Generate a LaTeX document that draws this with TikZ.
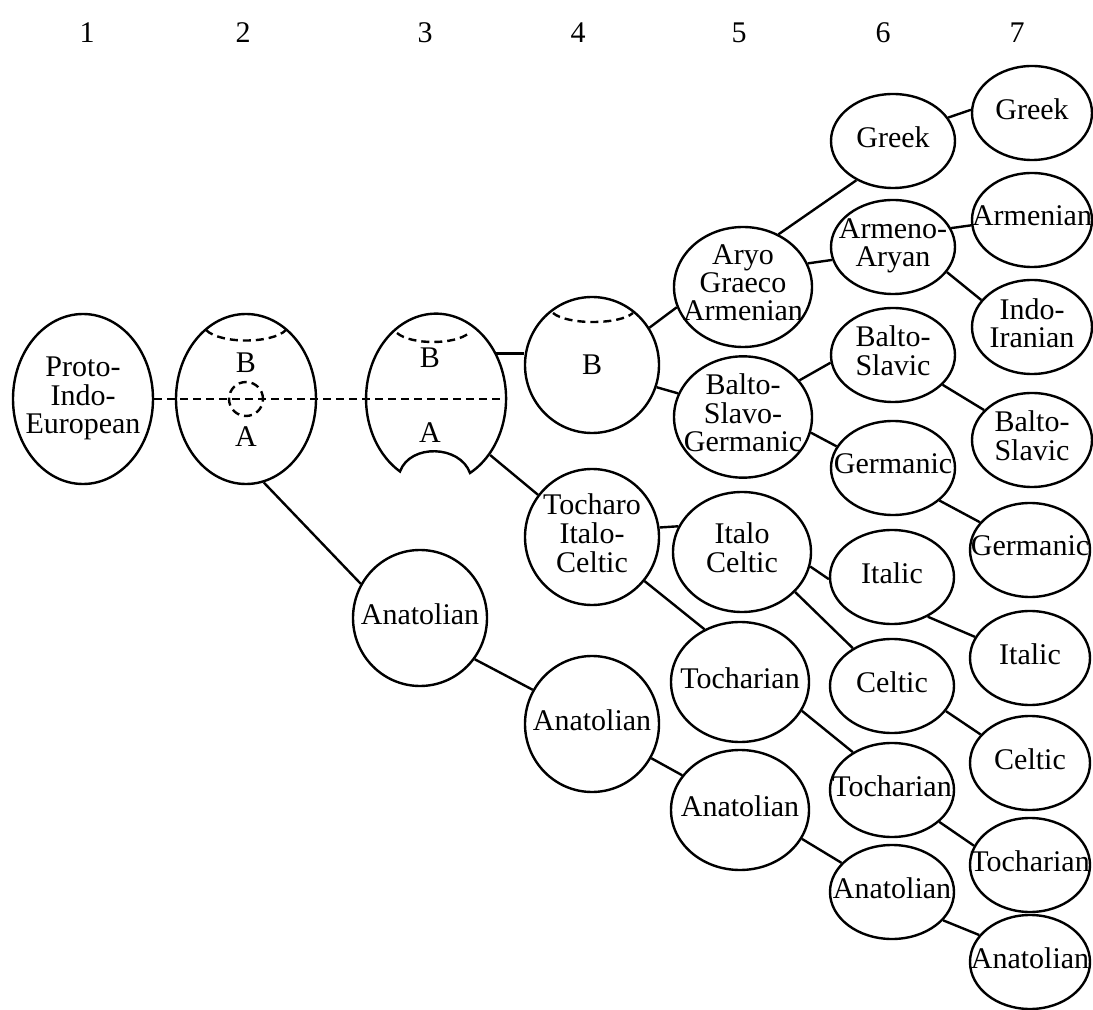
\documentclass[tikz,border=0pt]{standalone}
\usepackage{fontspec}
\setmainfont{Liberation Serif}
\usetikzlibrary{shapes.geometric,calc}

% text that does not widen its ellipse
\newcommand{\lname}[1]{\makebox[0pt]{\begin{tabular}{@{}c@{}}#1\end{tabular}}}

\begin{document}
\begin{tikzpicture}[x=0.5pt,y=-0.5pt,line width=1.2pt,
  txt/.style={font=\fontsize{15}{13.5}\selectfont},
  lang/.style={txt,ellipse,draw,inner sep=0pt},
  big node/.style={lang,minimum width=70pt,minimum height=85pt},
  round node/.style={lang,minimum width=67pt,minimum height=68pt},
  mid node/.style={lang,minimum width=69pt,minimum height=60pt},
  six node/.style={lang,minimum width=62pt,minimum height=47pt},
  seven node/.style={lang,minimum width=60pt,minimum height=47pt},
  border line/.style={dash pattern=on 4pt off 2.5pt}]

  \useasboundingbox (0,0) rectangle (1093,1010);

  % stage numbers
  \foreach \x [count=\i] in {87,243,425,578,739,883,1017}
    \node[txt] (h\i) at (\x,33) {\i};

  \node[big node]  (pie) at (83,399) {\lname{Proto-\\Indo-\\European}};
  \node[big node]  (n2)  at (246,399) {};
  \node[big node,draw=none] (n3) at (436,399) {};
  \node[round node] (b4)  at (592,365) {B};
  \node[round node] (an3) at (420,618) {\lname{Anatolian}};
  \node[round node] (tic) at (592,537) {\lname{Tocharo\\Italo-\\Celtic}};
  \node[round node] (an4) at (592,724) {\lname{Anatolian}};

  \node[mid node]  (aga) at (743,287) {\lname{Aryo\\Graeco\\Armenian}};
  \node[mid node]  (bsg) at (743,417) {\lname{Balto-\\Slavo-\\Germanic}};
  \node[mid node]  (ic)  at (742,552) {\lname{Italo\\Celtic}};
  \node[mid node]  (to5) at (740,682) {\lname{Tocharian}};
  \node[mid node]  (an5) at (740,810) {\lname{Anatolian}};

  \node[six node]  (gr6) at (893,141) {\lname{Greek}};
  \node[six node]  (aa6) at (893,247) {\lname{Armeno-\\Aryan}};
  \node[six node]  (bs6) at (893,355) {\lname{Balto-\\Slavic}};
  \node[six node]  (ge6) at (893,468) {\lname{Germanic}};
  \node[six node]  (it6) at (892,577) {\lname{Italic}};
  \node[six node]  (ce6) at (892,686) {\lname{Celtic}};
  \node[six node]  (to6) at (892,790) {\lname{Tocharian}};
  \node[six node]  (an6) at (892,892) {\lname{Anatolian}};

  \node[seven node] (gr7) at (1032,113) {\lname{Greek}};
  \node[seven node] (ar7) at (1032,220) {\lname{Armenian}};
  \node[seven node] (ii7) at (1032,327) {\lname{Indo-\\Iranian}};
  \node[seven node] (bs7) at (1032,440) {\lname{Balto-\\Slavic}};
  \node[seven node] (ge7) at (1030,550) {\lname{Germanic}};
  \node[seven node] (it7) at (1030,658) {\lname{Italic}};
  \node[seven node] (ce7) at (1030,763) {\lname{Celtic}};
  \node[seven node] (to7) at (1030,865) {\lname{Tocharian}};
  \node[seven node] (an7) at (1030,962) {\lname{Anatolian}};

  % split node with the notch
  \draw ($(n3)+(34,74)$) arc[start angle=-61,end angle=239,x radius=35pt,y radius=42.5pt]
    .. controls +(10,-28) and +(-10,-28) .. ($(n3)+(34,74)$) -- cycle;

  \node[txt] (n2b) at (246,363) {B};
  \node[txt] (n2a) at (246,437) {A};
  \node[txt] (n3b) at (430,358) {B};
  \node[txt] (n3a) at (430,433) {A};

  % dashed parts
  \draw[border line] (pie.east) -- (n3.east);
  \draw[border line] (n2) circle[radius=8.5pt];
  \draw[border line] ($(n2)+(-40,-69)$) .. controls +(14,14) and +(-14,14) .. ($(n2)+(40,-69)$);
  \draw[border line] ($(n3)+(-39,-66)$) .. controls +(14,12) and +(-14,12) .. ($(n3)+(33,-66)$);
  \draw[border line] ($(b4)+(-39,-52)$) .. controls +(14,12) and +(-14,12) .. ($(b4)+(41,-52)$);

  \path
    (n2.-78) edge (an3.150)
    (n3.37) edge (b4.west |- n3.37)
    (n3.-46) edge (tic.142)
    (b4.33) edge (aga.197)
    (b4.-19) edge (bsg.160)
    (tic.8) edge (ic.158)
    (tic.-40) edge (to5.124)
    (an3.-37) edge (an4.150)
    (an4.-30) edge (an5.149)
    (aga.56) edge (gr6.-133)
    (aga.20) edge (aa6.192)
    (bsg.33) edge (bs6.187)
    (bsg.-13) edge (ge6.159)
    (ic.-12) edge (it6.182)
    (ic.-37) edge (ce6.136)
    (to5.-25) edge (to6.136)
    (an5.-25) edge (an6.150)
    (gr6.23) edge (gr7.177)
    (aa6.18) edge (ar7.185)
    (aa6.-25) edge (ii7.152)
    (bs6.-31) edge (bs7.148)
    (ge6.-35) edge (ge7.151)
    (it6.-48) edge (it7.159)
    (ce6.-25) edge (ce7.150)
    (to6.-34) edge (to7.161)
    (an6.-29) edge (an7.152);

\end{tikzpicture}
\end{document}
